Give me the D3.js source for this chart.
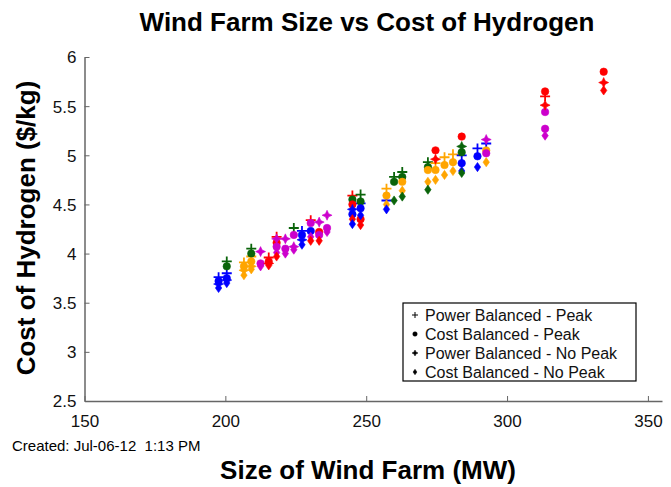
<!DOCTYPE html>
<html lang="en">
<head>
    <meta charset="UTF-8">
    <title>Wind Farm Size vs Cost of Hydrogen</title>
    <script src="https://d3js.org/d3.v7.min.js"></script>
    <style>
        body { margin: 0; background: #fff; }
        text { font-family: "Liberation Sans", Arial, sans-serif; }
    </style>
</head>
<body>
    <svg id="chart" width="671" height="487"></svg>

    <script>
        // colour groups
        const groupColors = {b: "#0000ff", g: "#0a640a", o: "#ffa500", m: "#cc00cc", r: "#ff0000"};

        // [MW, $/kg, colour group]
        const powerPeak = [
            [197.6, 3.76, "b"], [200.5, 3.80, "b"], [200.5, 3.92, "g"], [206.6, 3.91, "o"],
            [209.2, 4.05, "g"], [209.2, 3.97, "o"], [215.4, 3.96, "r"], [218.2, 4.17, "r"],
            [224.3, 4.26, "g"], [227.2, 4.23, "b"], [230.3, 4.34, "r"], [245.1, 4.59, "r"],
            [248.0, 4.60, "g"], [248.0, 4.51, "b"], [257.2, 4.66, "o"], [257.2, 4.54, "b"],
            [259.9, 4.78, "g"], [262.8, 4.83, "g"], [271.9, 4.93, "g"], [274.6, 4.92, "o"],
            [277.8, 4.98, "o"], [280.8, 5.01, "o"], [283.9, 5.00, "b"], [289.5, 5.07, "b"],
            [292.6, 5.12, "b"], [313.5, 5.60, "r"]
        ];
        const costPeak = [
            [197.6, 3.72, "b"], [200.5, 3.75, "b"], [200.5, 3.87, "g"], [206.6, 3.87, "o"],
            [209.2, 4.00, "g"], [209.2, 3.92, "o"], [212.5, 3.90, "m"], [215.4, 3.92, "r"],
            [218.2, 4.11, "r"], [218.2, 4.07, "m"], [221.3, 4.05, "m"], [224.3, 4.19, "m"],
            [227.2, 4.19, "b"], [230.3, 4.31, "m"], [230.3, 4.23, "b"], [233.3, 4.22, "r"],
            [233.3, 4.19, "m"], [236.1, 4.26, "m"], [245.1, 4.55, "g"], [245.1, 4.50, "r"],
            [245.1, 4.40, "b"], [248.0, 4.53, "g"], [248.0, 4.46, "b"], [248.0, 4.35, "r"],
            [257.2, 4.59, "o"], [259.9, 4.73, "g"], [262.8, 4.78, "g"], [262.8, 4.73, "o"],
            [271.9, 4.88, "g"], [271.9, 4.85, "o"], [274.6, 5.05, "r"], [274.6, 4.85, "o"],
            [277.8, 4.90, "o"], [280.8, 4.93, "o"], [283.9, 5.19, "r"], [283.9, 5.03, "g"],
            [283.9, 4.92, "b"], [289.5, 4.99, "b"], [292.6, 5.05, "o"], [292.6, 5.02, "m"],
            [313.5, 5.65, "r"], [313.5, 5.44, "m"], [313.5, 5.27, "m"], [334.3, 5.85, "r"]
        ];
        const powerNoPeak = [
            [197.6, 3.69, "b"], [200.5, 3.73, "b"], [206.6, 3.83, "o"], [209.2, 3.87, "o"],
            [212.5, 4.02, "m"], [215.4, 3.90, "r"], [218.2, 4.15, "m"], [221.3, 4.15, "m"],
            [224.3, 4.07, "m"], [227.2, 4.14, "b"], [233.3, 4.32, "m"], [236.1, 4.39, "m"],
            [245.1, 4.45, "b"], [274.6, 4.96, "r"], [283.9, 5.09, "g"], [292.6, 5.16, "m"],
            [313.5, 5.51, "r"], [334.3, 5.74, "r"]
        ];
        const costNoPeak = [
            [197.6, 3.65, "b"], [200.5, 3.70, "b"], [206.6, 3.78, "o"], [209.2, 3.84, "o"],
            [212.5, 3.87, "m"], [215.4, 3.88, "r"], [218.2, 4.01, "m"], [218.2, 3.97, "r"],
            [221.3, 4.00, "m"], [224.3, 4.04, "m"], [227.2, 4.09, "b"], [230.3, 4.17, "m"],
            [230.3, 4.13, "r"], [233.3, 4.13, "r"], [236.1, 4.22, "m"], [245.1, 4.35, "r"],
            [245.1, 4.30, "b"], [248.0, 4.39, "b"], [248.0, 4.29, "r"], [257.2, 4.50, "o"],
            [257.2, 4.45, "b"], [259.9, 4.54, "g"], [262.8, 4.64, "o"], [262.8, 4.58, "g"],
            [271.9, 4.73, "o"], [271.9, 4.65, "g"], [274.6, 4.75, "o"], [277.8, 4.80, "o"],
            [280.8, 4.84, "o"], [283.9, 4.84, "b"], [283.9, 4.82, "g"], [289.5, 4.88, "b"],
            [292.6, 4.93, "o"], [313.5, 5.20, "m"], [334.3, 5.66, "r"]
        ];

        const xTicks = [150, 200, 250, 300, 350];
        const yTicks = [2.5, 3, 3.5, 4, 4.5, 5, 5.5, 6];
        const seriesNames = ["Power Balanced - Peak", "Cost Balanced - Peak",
                             "Power Balanced - No Peak", "Cost Balanced - No Peak"];

        const svg = d3.select("#chart");

        const x = d3.scaleLinear().domain([150, 355]).range([84.5, 662]);
        const y = d3.scaleLinear().domain([2.5, 6]).range([401, 57]);

        // marker path generators, centred on 0,0
        const markers = [
            s => `M${-5*s},0H${5*s}M0,${-5*s}V${5*s}`,                          // +
            s => d3.symbol(d3.symbolCircle, 44 * s * s)(),                        // circle
            s => `M0,${-5*s}L${1.6*s},${-1.6*s}L${5*s},0L${1.6*s},${1.6*s}L0,${5*s}L${-1.6*s},${1.6*s}L${-5*s},0L${-1.6*s},${-1.6*s}Z`, // star
            s => `M0,${-4.6*s}L${3.2*s},0L0,${4.6*s}L${-3.2*s},0Z`                // diamond
        ];

        function drawMarker(g, type, color, s) {
            const p = g.append("path").attr("d", markers[type](s));
            if (type === 0) p.attr("fill", "none").attr("stroke", color).attr("stroke-width", 1.8);
            else p.attr("fill", color).attr("stroke", color).attr("stroke-width", 0.6);
            return p;
        }

        // axes
        const xAxis = svg.append("g").attr("transform", "translate(0,401)")
            .call(d3.axisBottom(x).tickValues(xTicks).tickSizeInner(-5).tickSizeOuter(0).tickPadding(17));
        const yAxis = svg.append("g").attr("transform", "translate(84.5,0)")
            .call(d3.axisLeft(y).tickValues(yTicks).tickSizeInner(-5).tickSizeOuter(0).tickPadding(8)
                .tickFormat(d3.format("")));
        [xAxis, yAxis].forEach(a => {
            a.select(".domain").attr("stroke", "#666").attr("stroke-width", 1.5);
            a.selectAll(".tick line").attr("stroke", "#666");
            a.selectAll(".tick text").attr("fill", "#111").attr("font-size", 17)
                .attr("font-family", "'Liberation Sans Narrow', 'Liberation Sans', Arial, sans-serif");
        });
        xAxis.selectAll(".tick text").attr("dy", "0.5em");
        yAxis.selectAll(".tick text").attr("dy", "0.35em");

        // points
        const plot = svg.append("g");
        [powerPeak, costPeak, powerNoPeak, costNoPeak].forEach((series, i) => {
            series.forEach(d => {
                const g = plot.append("g").attr("transform", `translate(${x(d[0])},${y(d[1])})`);
                drawMarker(g, i, groupColors[d[2]], 1);
            });
        });

        // titles
        svg.append("text").attr("x", 367).attr("y", 31).attr("text-anchor", "middle")
            .attr("font-size", 26).attr("font-weight", "bold")
            .text("Wind Farm Size vs Cost of Hydrogen");
        svg.append("text").attr("x", 368).attr("y", 479).attr("text-anchor", "middle")
            .attr("font-size", 26).attr("font-weight", "bold")
            .text("Size of Wind Farm (MW)");
        svg.append("text").attr("transform", "translate(35,228) rotate(-90)").attr("text-anchor", "middle")
            .attr("font-size", 26).attr("font-weight", "bold")
            .text("Cost of Hydrogen ($/kg)");
        svg.append("text").attr("x", 12).attr("y", 451).attr("font-size", 15)
            .text("Created: Jul-06-12  1:13 PM").attr("xml:space", "preserve").style("white-space", "pre");

        // legend
        const lg = svg.append("g").attr("transform", "translate(403,303)");
        lg.append("rect").attr("width", 233).attr("height", 78)
            .attr("fill", "#fff").attr("stroke", "#000").attr("stroke-width", 1.2);
        seriesNames.forEach((name, i) => {
            const row = lg.append("g").attr("transform", `translate(0,${12 + i * 19})`);
            const m = row.append("g").attr("transform", "translate(12,0)");
            drawMarker(m, i, "#000", 0.6).attr("stroke-width", i === 0 ? 1 : 0.5);
            row.append("text").attr("x", 22).attr("y", 0).attr("dy", "0.35em")
                .attr("font-size", 16).attr("fill", "#111").text(name);
        });
    </script>
</body>
</html>
